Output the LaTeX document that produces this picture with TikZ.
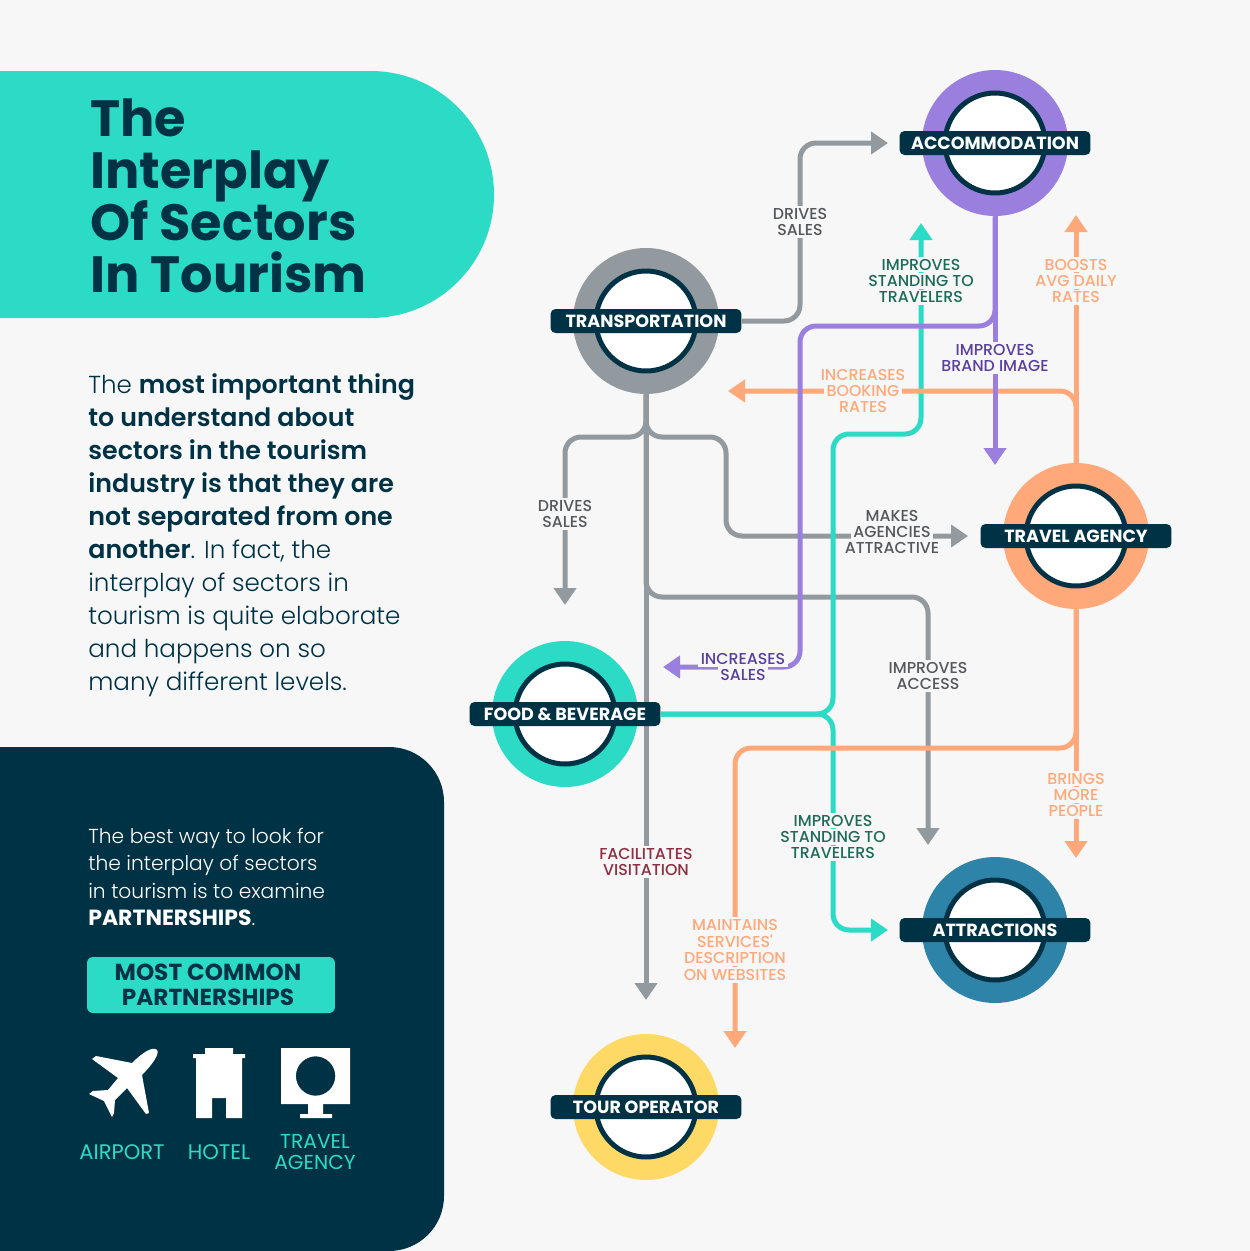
\documentclass[tikz,border=0pt]{standalone}
\usepackage{fontspec}
\setmainfont{Poppins}
\newfontfamily\lightface{Poppins Light}
\newfontfamily\mediumface{Poppins Medium}
\newfontfamily\semiface{Poppins SemiBold}
\usetikzlibrary{arrows.meta,backgrounds}
\definecolor{pagebg}{HTML}{F7F7F7}
\definecolor{navy}{HTML}{003246}
\definecolor{tealc}{HTML}{2BDBC5}
\definecolor{purplec}{HTML}{9B7FDF}
\definecolor{grayc}{HTML}{929A9F}
\definecolor{orangec}{HTML}{FFA97A}
\definecolor{bluec}{HTML}{2E83A8}
\definecolor{yellowc}{HTML}{FFD966}
\definecolor{darkgreen}{HTML}{1E6B5A}
\definecolor{darkpurple}{HTML}{5A3FA0}
\definecolor{darkred}{HTML}{8E2F42}
\definecolor{darkgray}{HTML}{55595C}
\setlength{\fboxsep}{1.3pt}
\AtBeginDocument{\setlength{\normallineskiplimit}{-5pt}\setlength{\lineskiplimit}{-5pt}}
\newcommand{\halo}[1]{\colorbox{pagebg}{#1}}
\newcommand{\heavy}[1]{{\fontsize{14.4}{18.8}\selectfont\semiface #1}}
\tikzset{
  ring/.style={circle,minimum size=29.2mm,inner sep=0pt},
  hole/.style={circle,minimum size=20mm,inner sep=0pt,fill=white,draw=navy,line width=1mm},
  band/.style={rounded corners=1mm,fill=navy,text=white,minimum width=38.2mm,minimum height=4.8mm,inner sep=0pt,font=\fontsize{10}{10}\selectfont\bfseries},
  route/.style={line width=1mm,rounded corners=3.2mm,-{Triangle[length=3.4mm,width=4.4mm]}},
  routelabel/.style={inner sep=0pt,align=center,font=\fontsize{9}{9.35}\selectfont\mediumface}
}
\begin{document}
\begin{tikzpicture}[x=0.02cm,y=-0.02cm]
\useasboundingbox (0,0) rectangle (1250,1251);
\begin{scope}[on background layer]
  \fill[pagebg] (0,0) rectangle (1250,1251);
\end{scope}
% left column
\fill[tealc,rounded corners=24.7mm] (-300,71) rectangle (494,318);
\fill[navy,rounded corners=11mm] (-100,747) rectangle (444,1251);
\node[anchor=west,inner sep=0pt,text=navy,align=left,font=\fontsize{29}{29.5}\selectfont\bfseries] (title) at (90,196) {The\\Interplay\\Of Sectors\\In Tourism};
\node[anchor=west,inner sep=0pt,text=navy,align=left,font=\fontsize{14}{18.8}\selectfont\lightface] (intro) at (88,535) {The \heavy{most important thing}\\\heavy{to understand about}\\\heavy{sectors in the tourism}\\\heavy{industry is that they are}\\\heavy{not separated from one}\\\heavy{another}. In fact, the\\interplay of sectors in\\tourism is quite elaborate\\and happens on so\\many different levels.};
\node[anchor=west,inner sep=0pt,text=white,align=left,font=\fontsize{11.5}{15.5}\selectfont\lightface] (hint) at (88,877) {The best way to look for\\the interplay of sectors\\in tourism is to examine\\{\fontsize{12.5}{15.5}\selectfont\normalfont\bfseries PARTNERSHIPS}.};
\node[fill=tealc,rounded corners=1.2mm,minimum width=49.6mm,minimum height=11.2mm,inner sep=0pt] (common) at (211,985) {};
\node[text=navy,inner sep=0pt,align=center,font=\fontsize{13.2}{14}\selectfont\bfseries] (commontext) at (208,985) {MOST COMMON\\PARTNERSHIPS};
% icons
\fill[white] (157,1050) .. controls (153,1046) and (143,1052) .. (132,1063) -- (96,1056) -- (92,1059) -- (118,1078) -- (108,1090) -- (93,1091) -- (89,1094) -- (104,1101) -- (112,1117) -- (114,1113) -- (115,1100) -- (127,1088) -- (146,1114) -- (149,1113) -- (142,1075) .. controls (153,1064) and (160,1053) .. (157,1050) -- cycle;
\fill[white] (205,1048) -- (233,1048) -- (233,1054) -- (245,1054) -- (245,1058) -- (242,1058) -- (242,1118) -- (226,1118) -- (226,1098) -- (212,1098) -- (212,1118) -- (196,1118) -- (196,1058) -- (193,1058) -- (193,1054) -- (205,1054) -- cycle;
\fill[white,even odd rule] (281,1048) rectangle (350,1104) (315.6,1076) circle[radius=19.7];
\fill[white] (308,1104) rectangle (323,1114) (300,1114) rectangle (332,1118);
\node[text=tealc,inner sep=0pt,font=\fontsize{12}{12}\selectfont] (airport) at (122,1152) {AIRPORT};
\node[text=tealc,inner sep=0pt,font=\fontsize{12}{12}\selectfont] (hotel) at (219,1152) {HOTEL};
\node[text=tealc,inner sep=0pt,align=center,font=\fontsize{11.5}{12.4}\selectfont] (agencyicon) at (315,1152) {TRAVEL\\AGENCY};
% stations
\foreach \name/\x/\y/\col/\txt in {accommodation/995/143/purplec/ACCOMMODATION,transportation/646/321/grayc/TRANSPORTATION,agency/1076/536/orangec/TRAVEL AGENCY,food/565/714/tealc/FOOD \& BEVERAGE,attractions/995/930/bluec/ATTRACTIONS,tour/646/1107/yellowc/TOUR OPERATOR}{
  \node[ring,fill=\col] (\name ring) at (\x,\y) {};
  \node[hole] (\name hole) at (\x,\y) {};
  \node[band] (\name) at (\x,\y) {\txt};
}
% arrow ends
\coordinate (accsales) at (888,143);
\coordinate (foodsales) at (565,605);
\coordinate (agencyattr) at (968,536);
\coordinate (access) at (928,845);
\coordinate (visit) at (646,1000);
\coordinate (brand) at (995,465);
\coordinate (foodinc) at (663,667);
\coordinate (standup) at (921,223);
\coordinate (standat) at (888,930);
\coordinate (boost) at (1076,215);
\coordinate (booking) at (728,391);
\coordinate (people) at (1076,858);
\coordinate (websites) at (735,1048);
\begin{scope}[on background layer]
  \draw[route,grayc] (transportation.east) -| (800,143) -- (accsales);
  \draw[route,grayc] (transportationring.south) -- (visit);
  \draw[route,grayc] (transportationring.south) |- (565,437) -- (foodsales);
  \draw[route,grayc] (transportationring.south) |- (726,437) |- (agencyattr);
  \draw[route,grayc] (transportationring.south) |- (928,597) -- (access);
  \draw[route,tealc] (food.east) -| (833,434) -| (standup);
  \draw[route,tealc] (food.east) -| (833,930) -- (standat);
  \draw[route,orangec] (agencyring.north) -- (boost);
  \draw[route,orangec] (agencyring.north) |- (booking);
  \draw[route,orangec] (agencyring.south) -- (people);
  \draw[route,orangec] (agencyring.south) |- (735,748) -- (websites);
  \draw[route,purplec] (accommodationring.south) -- (brand);
  \draw[route,purplec] (accommodationring.south) |- (800,326) |- (foodinc);
\end{scope}
% labels
\node[routelabel,text=darkgray] (l1) at (800,222) {\halo{DRIVES}\\\halo{SALES}};
\node[routelabel,text=darkgray] (l2) at (565,514) {\halo{DRIVES}\\\halo{SALES}};
\node[routelabel,text=darkgray] (l3) at (892,532) {\halo{MAKES}\\\halo{AGENCIES}\\\halo{ATTRACTIVE}};
\node[routelabel,text=darkgray] (l4) at (928,676) {\halo{IMPROVES}\\\halo{ACCESS}};
\node[routelabel,text=darkred] (l5) at (646,862) {\halo{FACILITATES}\\\halo{VISITATION}};
\node[routelabel,text=darkpurple] (l6) at (995,358) {\halo{IMPROVES}\\\halo{BRAND IMAGE}};
\node[routelabel,text=darkpurple] (l7) at (743,667) {\halo{INCREASES}\\\halo{SALES}};
\node[routelabel,text=darkgreen] (l8) at (921,281) {\halo{IMPROVES}\\\halo{STANDING TO}\\\halo{TRAVELERS}};
\node[routelabel,text=darkgreen] (l9) at (833,837) {\halo{IMPROVES}\\\halo{STANDING TO}\\\halo{TRAVELERS}};
\node[routelabel,text=orangec] (l10) at (1076,281) {\halo{BOOSTS}\\\halo{AVG DAILY}\\\halo{RATES}};
\node[routelabel,text=orangec] (l11) at (863,391) {\halo{INCREASES}\\\halo{BOOKING}\\\halo{RATES}};
\node[routelabel,text=orangec] (l12) at (1076,795) {\halo{BRINGS}\\\halo{MORE}\\\halo{PEOPLE}};
\node[routelabel,text=orangec] (l13) at (735,950) {\halo{MAINTAINS}\\\halo{SERVICES'}\\\halo{DESCRIPTION}\\\halo{ON WEBSITES}};
\end{tikzpicture}
\end{document}
